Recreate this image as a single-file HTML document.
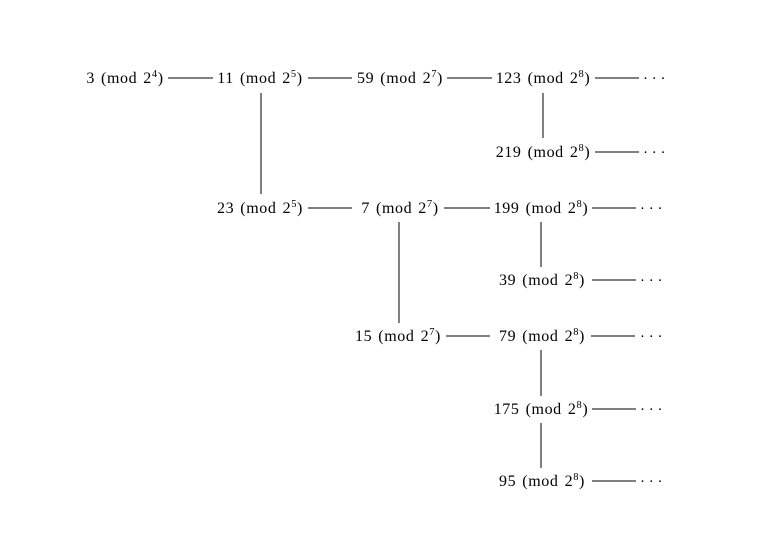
<!DOCTYPE html>
<html><head><meta charset="utf-8"><style>
html,body{margin:0;padding:0;background:#fff;}
svg{display:block;}
text{font-family:"Liberation Serif",serif;font-size:16px;fill:#000;word-spacing:1.5px;letter-spacing:0.6px;}
.s{font-size:10.5px;}
.d{word-spacing:0;letter-spacing:0;font-size:15px;}
line{stroke:#000;stroke-width:1;shape-rendering:crispEdges;}
</style></head><body>
<svg width="757" height="556" viewBox="0 0 757 556" xmlns="http://www.w3.org/2000/svg">
<g text-anchor="middle">
<text x="125" y="83">3 (mod 2<tspan class="s" dy="-6">4</tspan><tspan dy="6">)</tspan></text>
<text x="260" y="83">11 (mod 2<tspan class="s" dy="-6">5</tspan><tspan dy="6">)</tspan></text>
<text x="400" y="83">59 (mod 2<tspan class="s" dy="-6">7</tspan><tspan dy="6">)</tspan></text>
<text x="543" y="83">123 (mod 2<tspan class="s" dy="-6">8</tspan><tspan dy="6">)</tspan></text>
<text x="543" y="157">219 (mod 2<tspan class="s" dy="-6">8</tspan><tspan dy="6">)</tspan></text>
<text x="260" y="213">23 (mod 2<tspan class="s" dy="-6">5</tspan><tspan dy="6">)</tspan></text>
<text x="400" y="213">7 (mod 2<tspan class="s" dy="-6">7</tspan><tspan dy="6">)</tspan></text>
<text x="541" y="213">199 (mod 2<tspan class="s" dy="-6">8</tspan><tspan dy="6">)</tspan></text>
<text x="542" y="285">39 (mod 2<tspan class="s" dy="-6">8</tspan><tspan dy="6">)</tspan></text>
<text x="398" y="341">15 (mod 2<tspan class="s" dy="-6">7</tspan><tspan dy="6">)</tspan></text>
<text x="542" y="341">79 (mod 2<tspan class="s" dy="-6">8</tspan><tspan dy="6">)</tspan></text>
<text x="541" y="414">175 (mod 2<tspan class="s" dy="-6">8</tspan><tspan dy="6">)</tspan></text>
<text x="542" y="486">95 (mod 2<tspan class="s" dy="-6">8</tspan><tspan dy="6">)</tspan></text>
</g>
<g class="d">
<text class="d" x="643" y="83">· · ·</text>
<text class="d" x="643" y="157">· · ·</text>
<text class="d" x="640" y="213">· · ·</text>
<text class="d" x="640" y="285">· · ·</text>
<text class="d" x="640" y="341">· · ·</text>
<text class="d" x="640" y="414">· · ·</text>
<text class="d" x="640" y="486">· · ·</text>
</g>
<line x1="168" y1="78" x2="213" y2="78"/>
<line x1="308" y1="78" x2="352" y2="78"/>
<line x1="447" y1="78" x2="492" y2="78"/>
<line x1="595" y1="78" x2="639" y2="78"/>
<line x1="261" y1="93" x2="261" y2="194"/>
<line x1="543" y1="93" x2="543" y2="138"/>
<line x1="595" y1="152" x2="639" y2="152"/>
<line x1="308" y1="208" x2="352" y2="208"/>
<line x1="444" y1="208" x2="490" y2="208"/>
<line x1="592" y1="208" x2="636" y2="208"/>
<line x1="399" y1="222" x2="399" y2="323"/>
<line x1="541" y1="222" x2="541" y2="267"/>
<line x1="592" y1="280" x2="636" y2="280"/>
<line x1="446" y1="336" x2="490" y2="336"/>
<line x1="591" y1="336" x2="635" y2="336"/>
<line x1="541" y1="350" x2="541" y2="396"/>
<line x1="592" y1="409" x2="636" y2="409"/>
<line x1="541" y1="423" x2="541" y2="468"/>
<line x1="592" y1="481" x2="636" y2="481"/>
</svg>
</body></html>
